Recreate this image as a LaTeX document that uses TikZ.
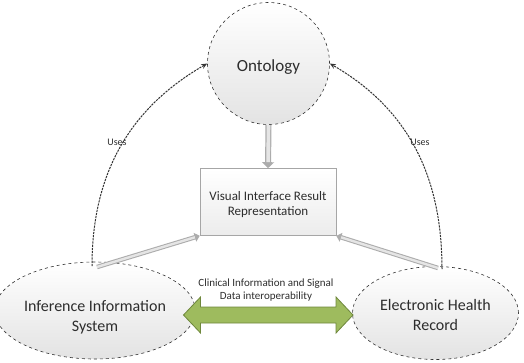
\documentclass[tikz,border=0pt]{standalone}
\usepackage{fontspec}
\setmainfont{Carlito}
\usetikzlibrary{shapes.geometric,arrows.meta,calc}
\definecolor{olivefill}{RGB}{158,187,94}
\definecolor{olivedraw}{RGB}{110,135,60}
\definecolor{txt}{RGB}{45,45,45}
\newcommand{\lowtext}[2]{\raisebox{-#1}[\height][\depth]{\begin{tabular}{@{}c@{}}#2\end{tabular}}}
\begin{document}
\begin{tikzpicture}[x=1pt,y=-1pt,
  bubble/.style={draw=black!80, dashed, line width=0.6pt, top color=white, bottom color=gray!22, text=txt, align=center, font=\fontsize{16}{20}\selectfont, inner sep=0pt},
  ovalnode/.style={bubble, ellipse},
  roundnode/.style={bubble, circle, minimum size=122pt, font=\fontsize{17}{20}\selectfont},
  panel/.style={draw=gray!70, line width=0.6pt, top color=white, bottom color=gray!15, text=txt, align=center, font=\fontsize{13}{15.5}\selectfont, minimum width=136pt, minimum height=67pt},
  usesarc/.style={draw=black!80, dash pattern=on 2.2pt off 1pt, line width=1pt, -{Stealth[length=6pt,width=5pt]}},
  hollowout/.style={line width=6pt, draw=gray!65, -{Triangle[length=6pt,width=12pt]}},
  hollowin/.style={line width=3.6pt, draw=gray!20},
  lbl/.style={font=\fontsize{10}{12}\selectfont, text=txt},
  greenarrow/.style={draw=olivedraw, line width=0.8pt, fill=olivefill, line join=miter}
]
\useasboundingbox (0,0) rectangle (524,362);

\node[roundnode] (onto) at (268.5,63.5) {\lowtext{4pt}{Ontology}};
\node[panel] (vis) at (268,202) {\lowtext{3pt}{Visual Interface Result\\Representation}};
\node[ovalnode, minimum width=176pt, minimum height=97pt] (iis) at (95,310.5) {\lowtext{7pt}{Inference Information\\System}};
\node[ovalnode, minimum width=166pt, minimum height=93pt] (ehr) at (435.5,313) {\lowtext{3pt}{Electronic Health\\Record}};

% Uses arcs
\coordinate (iistop) at (92,266);
\coordinate (ehrtop) at (442,269);
\draw[usesarc] (iistop) to[out=90,in=-150] (onto.west);
\draw[usesarc] (ehrtop) to[out=90,in=-30] (onto.east);
\node[lbl] (uses1) at (117,142) {Uses};
\node[lbl] (uses2) at (420,142) {Uses};

% gray arrows
\draw[hollowout] (onto.south) -- (vis.north);
\draw[hollowin, shorten >=6pt] (onto.south) -- (vis.north);

\coordinate (iisout) at (97,267);
\coordinate (ehrout) at (438,268);
\draw[hollowout, line width=4.5pt, -{Triangle[length=5pt,width=9pt]}] (iisout) -- (vis.south west);
\draw[hollowin, line width=2.4pt, shorten >=5pt] (iisout) -- (vis.south west);
\draw[hollowout, line width=4.5pt, -{Triangle[length=5pt,width=9pt]}] (ehrout) -- (vis.south east);
\draw[hollowin, line width=2.4pt, shorten >=5pt] (ehrout) -- (vis.south east);

% green double arrow
\coordinate (gl) at (183.5,315);
\coordinate (gr) at (353,315);
\draw[greenarrow] (gl) -- ++(17,-18) -- ++(0,10) -- ($(gr)+(-17,-8)$) -- ++(0,-10) -- (gr) -- ++(-17,18) -- ++(0,-10) -- ($(gl)+(17,8)$) -- ++(0,10) -- cycle;
\node[lbl, font=\fontsize{11}{13}\selectfont, align=center] (cap) at (266,290) {Clinical Information and Signal\\Data interoperability};
\end{tikzpicture}
\end{document}
